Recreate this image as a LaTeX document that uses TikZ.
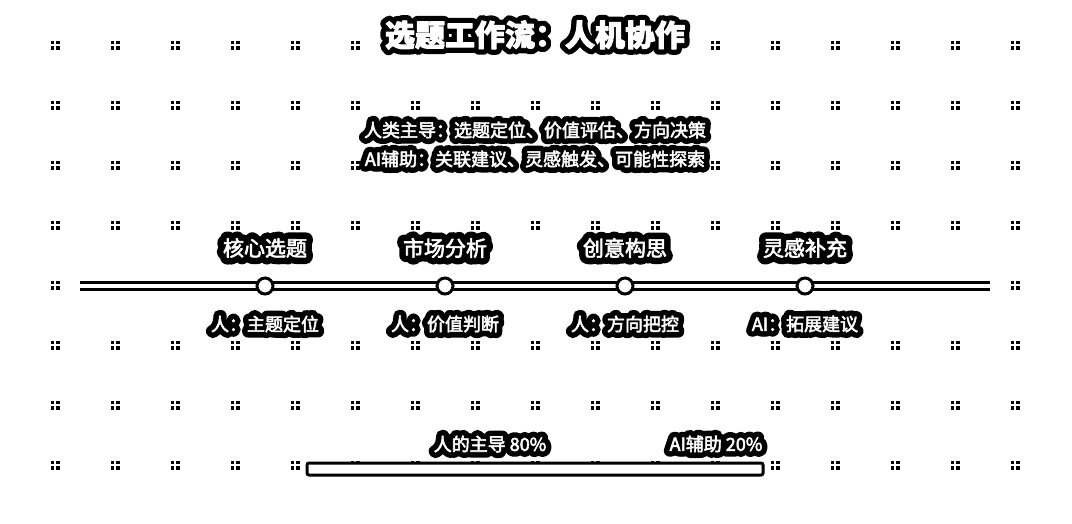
\documentclass[tikz,border=0pt]{standalone}
\usepackage{fontspec}
\setmainfont[FakeBold=3]{Noto Sans CJK SC}
\newfontfamily\halofont[FakeBold=65]{Noto Sans CJK SC}
\newfontfamily\halotitlefont[FakeBold=38]{Noto Sans CJK SC}
\newcommand\halotext[1]{\rlap{\halofont\color{black}#1}#1}
\newcommand\halotitle[1]{\rlap{\halotitlefont\bfseries\color{black}#1}#1}

\begin{document}
\begin{tikzpicture}[x=1pt,y=-1pt,
	halo/.style={text=white,inner sep=0pt,line join=round,font=\fontsize{#1}{#1}\selectfont},
	halo/.default=18,
	stage/.style={circle,draw=black,line width=3pt,fill=white,minimum size=16pt,inner sep=0pt}]
	
	\useasboundingbox[fill=white] (0,0) rectangle (1072,523);
	
	% dot grid
	\foreach \i in {0,...,16}{
		\foreach \j in {0,...,7}{
			\fill[black] (55+60*\i-4.5,45+60*\j-4.5) rectangle ++(3.5,3.5);
			\fill[black] (55+60*\i+1,45+60*\j-4.5) rectangle ++(3.5,3.5);
			\fill[black] (55+60*\i-4.5,45+60*\j+1) rectangle ++(3.5,3.5);
			\fill[black] (55+60*\i+1,45+60*\j+1) rectangle ++(3.5,3.5);
		}
	}
	
	\node[halo=30] (title) at (535,35) {\bfseries\halotitle{选题工作流：人机协作}};
	
	\node[halo] (human) at (535,130) {\halotext{人类主导：选题定位、价值评估、方向决策}};
	\node[halo] (ai) at (535,159) {\halotext{AI辅助：关联建议、灵感触发、可能性探索}};
	
	% timeline
	\coordinate (tlL) at (80,286);
	\coordinate (tlR) at (990,286);
	\draw[black,line width=10pt] (tlL) -- (tlR);
	\draw[white,line width=3.5pt] (tlL) -- (tlR);
	
	\node[stage] (s1) at (265,286) {};
	\node[stage] (s2) at (445,286) {};
	\node[stage] (s3) at (625,286) {};
	\node[stage] (s4) at (805,286) {};
	
	\node[halo=21] (t1) at (265,248) {\halotext{核心选题}};
	\node[halo=21] (t2) at (445,248) {\halotext{市场分析}};
	\node[halo=21] (t3) at (625,248) {\halotext{创意构思}};
	\node[halo=21] (t4) at (805,248) {\halotext{灵感补充}};
	
	\node[halo] (r1) at (265,324) {\halotext{人：主题定位}};
	\node[halo] (r2) at (445,324) {\halotext{人：价值判断}};
	\node[halo] (r3) at (625,324) {\halotext{人：方向把控}};
	\node[halo] (r4) at (805,324) {\halotext{AI：拓展建议}};
	
	% ratio bar
	\draw[black,line width=3pt,fill=white,rounded corners=2pt] (307,463) rectangle (763,475);
	\node[halo] (p1) at (490,444) {\halotext{人的主导 80\%}};
	\node[halo] (p2) at (716,444) {\halotext{AI辅助 20\%}};
	
\end{tikzpicture}
\end{document}
